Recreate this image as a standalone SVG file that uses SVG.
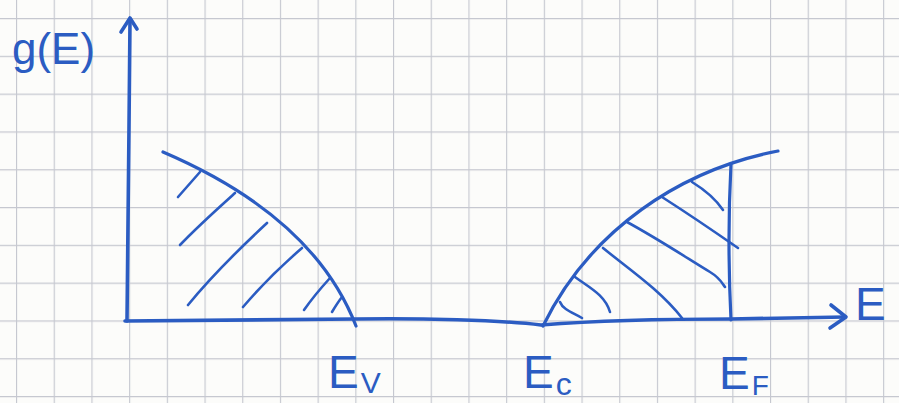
<svg xmlns="http://www.w3.org/2000/svg" width="899" height="403" viewBox="0 0 899 403">
<style>
.ink{fill:none;stroke:#2b5cc2;stroke-linecap:round;stroke-linejoin:round}
.axis{stroke-width:3.6}
.curve{stroke-width:3.2}
.hatch{stroke-width:2.6}
.lbl{font-family:"Liberation Sans",Arial,sans-serif;fill:#2b5cc2}
</style>
<defs>
<pattern id="grid" patternUnits="userSpaceOnUse" x="16" y="18" width="37.7" height="37.8">
<path d="M0.5,0 V37.8 M0,0.5 H37.7" fill="none" stroke="#c6c8d0" stroke-width="1.3"/>
</pattern>
</defs>
<rect width="899" height="403" fill="#fcfcfa"/>
<rect width="899" height="403" fill="url(#grid)"/>

<g id="axes" class="ink axis">
<path d="M127,321 C128,250 129,120 130,20"/>
<path d="M121,32 L130,18 L137,29"/>
<path d="M125,321 L355,319 C420,318 500,320 541,325 C580,322 650,319 731,319 L845,317"/>
<path d="M831,305 L846,317 L830,328"/>
</g>

<g id="valence-band" class="ink">
<path class="curve" d="M163,152 C240,185 322,238 356,326"/>
<g class="hatch">
<path d="M200,172 C192,181 185,189 178,197"/>
<path d="M235,193 C215,211 196,228 180,245"/>
<path d="M267,223 C238,250 210,278 188,305"/>
<path d="M302,248 C280,267 260,287 243,307"/>
<path d="M330,278 C320,289 311,300 304,310"/>
<path d="M342,297 C338,302 335,307 332,312"/>
</g>
</g>

<g id="conduction-band" class="ink">
<path class="curve" d="M543,326 C590,230 680,170 778,151"/>
<path class="curve" d="M731,164 C728,220 729,280 731,320"/>
<g class="hatch">
<path d="M560,302 C563,310 574,313 582,318"/>
<path d="M575,277 C590,288 605,295 610,312"/>
<path d="M603,248 C630,270 660,290 682,318"/>
<path d="M627,222 C660,240 690,260 710,272 C720,278 722,283 725,287"/>
<path d="M662,197 C690,215 715,232 738,248"/>
<path d="M692,182 C705,190 715,198 723,210"/>
</g>
</g>

<g id="labels">
<text class="lbl" x="12" y="64" font-size="44">g(E)</text>
<text class="lbl" x="855" y="320" font-size="46">E</text>
<text class="lbl" x="328" y="388" font-size="46">E<tspan font-size="30" dx="2" dy="5">V</tspan></text>
<text class="lbl" x="523" y="388" font-size="46">E<tspan font-size="32" dx="2" dy="7">c</tspan></text>
<text class="lbl" x="719" y="389" font-size="46">E<tspan font-size="28" dx="2" dy="6">F</tspan></text>
</g>
</svg>
